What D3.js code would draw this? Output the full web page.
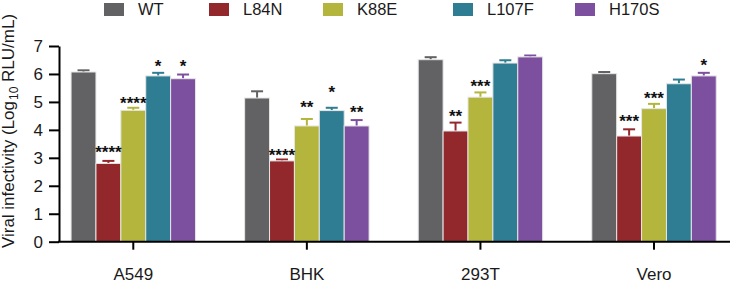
<!DOCTYPE html>
<html>
<head>
<meta charset="utf-8">
<script src="https://cdn.jsdelivr.net/npm/d3@7"></script>
<style>
  body { margin: 0; background: #fff; }
  text { font-family: Arial, "Liberation Sans", Helvetica, sans-serif; }
</style>
</head>
<body>
<div id="chart"></div>
<script>
// cell lines and mutants
let cells = ["A549", "BHK", "293T", "Vero"];
let mutants = ["WT", "L84N", "K88E", "L107F", "H170S"];
let colors = ["#626264", "#92282c", "#b4b53c", "#2f7d92", "#7c4f9f"];

// mean values, one row per cell line, in mutant order
let means = [
    [6.07, 2.80, 4.70, 5.93, 5.83],
    [5.14, 2.89, 4.14, 4.69, 4.14],
    [6.51, 3.96, 5.17, 6.39, 6.61],
    [6.01, 3.78, 4.76, 5.65, 5.93]
];
// upper error bar ends
let errTops = [
    [6.13, 2.89, 4.79, 6.04, 5.98],
    [5.38, 2.94, 4.39, 4.79, 4.35],
    [6.60, 4.26, 5.34, 6.49, 6.66],
    [6.07, 4.02, 4.93, 5.80, 6.04]
];
// significance marks and the level they sit at
let sigMarks = [
    ["", "****", "****", "*", "*"],
    ["", "****", "**", "*", "**"],
    ["", "**", "***", "", ""],
    ["", "***", "***", "", "*"]
];
let sigLevels = [
    [0, 3.34, 5.10, 6.43, 6.43],
    [0, 3.24, 4.95, 5.49, 4.77],
    [0, 4.65, 5.70, 0, 0],
    [0, 4.45, 5.27, 0, 6.46]
];
let yTicks = [0, 1, 2, 3, 4, 5, 6, 7];

function main(){
    let width = 731;
    let height = 287;

    let svg = d3.select("#chart")
                .append("svg")
                .attr("width", width)
                .attr("height", height);

    let x = d3.scaleBand()
                .domain(cells)
                .range([46.5, 740.8])
                .paddingInner(0.283)
                .paddingOuter(0.1415);

    let xSub = d3.scaleBand()
                .domain(mutants)
                .range([0, x.bandwidth()]);

    let y = d3.scaleLinear()
                .domain([0, 7])
                .range([241.7, 46]);

    let rows = [];
    cells.forEach((c, i) => {
        mutants.forEach((m, j) => {
            rows.push({cell: c, mutant: m, color: colors[j], value: means[i][j],
                       err: errTops[i][j], sig: sigMarks[i][j], sigY: sigLevels[i][j]});
        });
    });

    let cx = d => x(d.cell) + xSub(d.mutant) + xSub.bandwidth()/2;

    // error bars (drawn first, bar covers the lower part)
    let errs = svg.append("g").attr("id", "errors");
    errs.selectAll("line.stem")
        .data(rows)
        .enter()
        .append("line")
        .attr("x1", cx)
        .attr("x2", cx)
        .attr("y1", d => y(d.value))
        .attr("y2", d => y(d.err))
        .attr("stroke", d => d.color)
        .attr("stroke-width", 2);
    errs.selectAll("line.cap")
        .data(rows)
        .enter()
        .append("line")
        .attr("x1", d => cx(d) - 6)
        .attr("x2", d => cx(d) + 6)
        .attr("y1", d => y(d.err))
        .attr("y2", d => y(d.err))
        .attr("stroke", d => d.color)
        .attr("stroke-width", 2);

    svg.append("g")
        .attr("id", "bars")
        .selectAll("rect")
        .data(rows)
        .enter()
        .append("rect")
        .attr("x", d => x(d.cell) + xSub(d.mutant))
        .attr("y", d => y(d.value))
        .attr("width", xSub.bandwidth())
        .attr("height", d => y(0) - y(d.value))
        .attr("fill", d => d.color)
        .attr("stroke", "#e6e6e6")
        .attr("stroke-width", 1);

    svg.append("g")
        .attr("id", "stars")
        .selectAll("text")
        .data(rows.filter(d => d.sig !== ""))
        .enter()
        .append("text")
        .attr("x", cx)
        .attr("y", d => y(d.sigY) + 10)
        .attr("text-anchor", "middle")
        .attr("font-size", 17)
        .attr("font-weight", "bold")
        .attr("fill", "#111")
        .text(d => d.sig);

    // y axis
    let yAxis = d3.axisLeft(y).tickValues(yTicks).tickFormat(d3.format("d"))
                    .tickSize(10).tickSizeOuter(0).tickPadding(6);
    let gy = svg.append("g")
        .attr("transform", "translate(59,0)")
        .call(yAxis);
    gy.select(".domain").attr("stroke-width", 2);
    gy.selectAll(".tick line").attr("stroke-width", 2);
    gy.selectAll(".tick text").attr("font-size", 17).attr("fill", "#1a1a1a")
        .attr("font-family", "Arial, 'Liberation Sans', sans-serif");

    // x axis
    let xAxis = d3.axisBottom(x).tickSize(8).tickSizeOuter(0).tickPadding(18);
    let gx = svg.append("g")
        .attr("transform", `translate(0,${y(0)})`)
        .call(xAxis);
    gx.select(".domain").remove();
    gx.append("line")
        .attr("x1", 58).attr("x2", 730)
        .attr("y1", 0).attr("y2", 0)
        .attr("stroke", "#000")
        .attr("stroke-width", 2);
    gx.selectAll(".tick line").attr("stroke-width", 2);
    gx.selectAll(".tick text").attr("font-size", 17).attr("fill", "#1a1a1a")
        .attr("font-family", "Arial, 'Liberation Sans', sans-serif");

    // y title
    let title = svg.append("text")
        .attr("transform", "translate(13.5,131) rotate(-90)")
        .attr("text-anchor", "middle")
        .attr("font-size", 17)
        .attr("fill", "#1a1a1a");
    title.append("tspan").text("Viral infectivity (Log");
    title.append("tspan").attr("font-size", 12).attr("dy", 4).attr("dx", 1).text("10");
    title.append("tspan").attr("dy", -4).text(" RLU/mL)");

    // legend
    let legendX = [104, 209, 323, 453, 575];
    let legend = svg.append("g").attr("id", "legend")
        .selectAll("g")
        .data(mutants)
        .enter()
        .append("g")
        .attr("transform", (d, i) => `translate(${legendX[i]},3)`);
    legend.append("rect")
        .attr("width", 20)
        .attr("height", 13)
        .attr("fill", (d, i) => colors[i]);
    legend.append("text")
        .attr("x", 34)
        .attr("y", 6.5)
        .attr("dy", "0.35em")
        .attr("font-size", 16.5)
        .attr("fill", "#1a1a1a")
        .text(d => d);
}

main();
</script>
</body>
</html>
